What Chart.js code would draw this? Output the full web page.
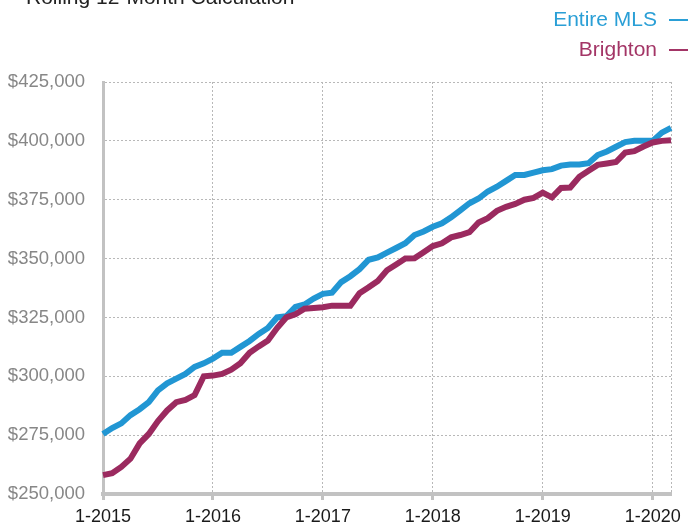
<!DOCTYPE html>
<html>
<head>
<meta charset="utf-8">
<script src="https://cdn.jsdelivr.net/npm/chart.js@4"></script>
<style>
  body { margin: 0; background: #fff; font-family: "Liberation Sans", Arial, sans-serif; }
  #wrap { position: relative; width: 689px; height: 525px; overflow: hidden; }
  #title { position: absolute; left: 26px; top: -14px; font-size: 21px; line-height: 21px; color: #222; white-space: nowrap; }
  .leg { position: absolute; right: 1px; font-size: 21px; line-height: 24px; white-space: nowrap; }
  .leg .dash { display: inline-block; width: 19px; height: 2px; margin-left: 12px; vertical-align: middle; }
</style>
</head>
<body>
<div id="wrap">
  <canvas id="chart" width="689" height="525"></canvas>
  <div id="title">Rolling 12-Month Calculation</div>
  <div class="leg" style="top:7px;color:#2a9fd6">Entire MLS<span class="dash" style="background:#2a9fd6"></span></div>
  <div class="leg" style="top:37px;color:#a33566">Brighton<span class="dash" style="background:#a33566"></span></div>
</div>
<script>
const months = [
  '1-2015','2-2015','3-2015','4-2015','5-2015','6-2015','7-2015','8-2015','9-2015','10-2015','11-2015','12-2015',
  '1-2016','2-2016','3-2016','4-2016','5-2016','6-2016','7-2016','8-2016','9-2016','10-2016','11-2016','12-2016',
  '1-2017','2-2017','3-2017','4-2017','5-2017','6-2017','7-2017','8-2017','9-2017','10-2017','11-2017','12-2017',
  '1-2018','2-2018','3-2018','4-2018','5-2018','6-2018','7-2018','8-2018','9-2018','10-2018','11-2018','12-2018',
  '1-2019','2-2019','3-2019','4-2019','5-2019','6-2019','7-2019','8-2019','9-2019','10-2019','11-2019','12-2019',
  '1-2020','2-2020','3-2020'
];
const yearTicks = ['1-2015','1-2016','1-2017','1-2018','1-2019','1-2020'];

// rolling 12-month median sales price, in dollars
const entireMls = [
  275500, 278000, 280000, 283500, 286000, 289000, 294000, 297000, 299000, 301000, 304000, 305500,
  307500, 310000, 310000, 312500, 315000, 318000, 320500, 325000, 325500, 329500, 330500, 333000,
  335000, 335500, 340000, 342500, 345500, 349500, 350500, 352500, 354500, 356500, 360000, 361500,
  363500, 365000, 367500, 370500, 373500, 375500, 378500, 380500, 383000, 385500, 385500, 386500,
  387500, 388000, 389500, 390000, 390000, 390500, 394000, 395500, 397500, 399500, 400000, 400000,
  400000, 403500, 405500
];
const brighton = [
  258000, 258800, 261500, 265000, 271500, 275500, 281000, 285500, 289000, 290000, 292000, 300000,
  300300, 301000, 302800, 305500, 310000, 312700, 315200, 320500, 325000, 326300, 328700, 329000,
  329300, 330000, 330000, 330000, 335300, 337800, 340500, 345000, 347500, 350000, 350100, 352700,
  355300, 356500, 359000, 360000, 361200, 365300, 367200, 370300, 372000, 373200, 375000, 375800,
  378000, 376000, 380000, 380200, 384700, 387300, 389800, 390400, 391000, 395000, 395600, 397600,
  399300, 400000, 400300
];

const gridColor = '#b8b8b8';
const axisColor = '#c2c2c2';

function isYear(i) {
  return yearTicks.includes(months[i]);
}

const ctx = document.getElementById('chart').getContext('2d');
new Chart(ctx, {
  type: 'line',
  data: {
    labels: months,
    datasets: [
      {
        label: 'Entire MLS',
        data: entireMls,
        borderColor: '#2196d3',
        borderWidth: 6,
        pointRadius: 0,
        tension: 0,
        fill: false,
        order: 1,
      },
      {
        label: 'Brighton',
        data: brighton,
        borderColor: '#9b2a5f',
        borderWidth: 6,
        pointRadius: 0,
        tension: 0,
        fill: false,
        order: 0,
      }
    ]
  },
  options: {
    responsive: false,
    animation: false,
    layout: { padding: { top: 82, right: 18, left: 0, bottom: 0 } },
    plugins: { legend: { display: false }, tooltip: { enabled: false } },
    scales: {
      x: {
        offset: false,
        afterFit: (s) => { s.height = 31; },
        border: { display: true, color: axisColor, width: 4, dash: [2, 2] },
        grid: {
          color: (c) => (isYear(c.index) || c.index === months.length - 1) ? gridColor : 'rgba(0,0,0,0)',
          lineWidth: 1,
          drawTicks: true,
          tickLength: 6,
          tickWidth: 3,
          tickColor: (c) => isYear(c.index) ? axisColor : 'rgba(0,0,0,0)',
        },
        ticks: {
          autoSkip: false,
          maxRotation: 0,
          padding: 6,
          color: '#1a1a1a',
          font: { family: '"Liberation Sans", Arial, sans-serif', size: 18 },
          callback: (v, i) => isYear(i) ? months[i] : '',
        }
      },
      y: {
        min: 250000,
        max: 425000,
        afterFit: (s) => { s.width = 103; },
        border: { display: true, color: axisColor, width: 3, dash: [2, 2] },
        grid: { color: gridColor, lineWidth: 1, drawTicks: false },
        ticks: {
          stepSize: 25000,
          padding: 18,
          color: '#878787',
          font: { family: '"Liberation Sans", Arial, sans-serif', size: 18.5 },
          callback: (v) => '$' + v.toLocaleString('en-US'),
        }
      }
    }
  }
});
</script>
</body>
</html>
